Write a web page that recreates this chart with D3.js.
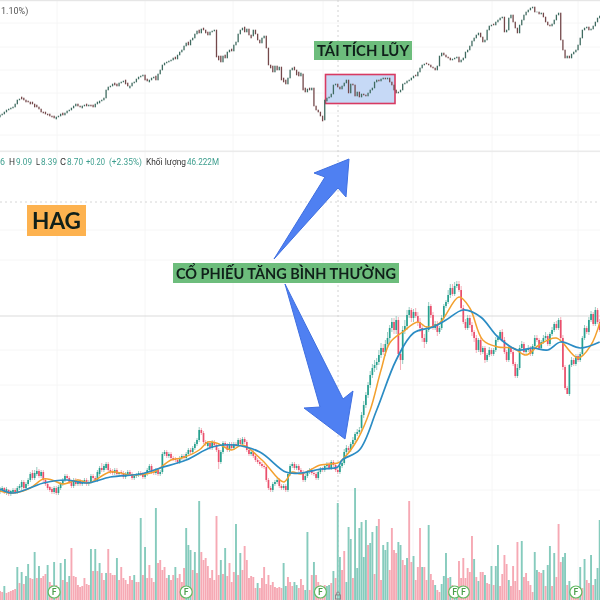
<!DOCTYPE html>
<html lang="vi"><head><meta charset="utf-8">
<style>html,body{margin:0;padding:0;background:#fff}svg{display:block;filter:blur(.35px)}</style>
<script src="https://cdn.jsdelivr.net/npm/d3@7/dist/d3.min.js"></script>
</head><body><div id="c"></div>
<script>
const topClose=[15,16,18,20,21,22,23,26,30,31,31,30,28,28,26,26,23,23,21,18,17,16,15,14,13,12,13,14,16,15,17,19,20,22,24,26,24,23,24,25,24,25,24,23,26,28,29,30,32,40,43,44,46,45,44,47,48,49,46,44,44,47,48,51,53,54,55,50,49,50,52,53,50,56,60,65,67,68,69,70,72,71,75,78,80,84,87,85,90,92,96,99,97,101,100,97,95,98,99,100,73,70,68,74,72,78,80,79,85,88,96,100,102,98,101,95,92,100,96,90,87,92,94,82,65,62,58,64,60,63,50,48,46,52,60,62,60,55,54,57,40,38,41,40,42,24,20,18,14,9,30,32,33,36,45,46,43,41,44,47,50,37,46,45,34,38,33,36,35,34,37,40,42,48,50,49,51,52,51,52,48,45,40,37,38,40,46,47,49,50,52,54,54,58,62,65,66,66,65,63,62,60,64,74,77,75,73,72,70,71,72,73,68,70,72,78,80,84,89,92,95,97,93,88,90,100,104,105,105,108,110,112,113,98,100,112,115,108,102,97,105,110,115,118,120,122,123,118,118,116,117,113,108,105,104,106,110,115,117,90,80,72,74,72,76,78,80,85,92,100,102,103,100,101,104,108,112,114];
const topOpen=[13,15,16,18,20,21,22,23,26,30,33,32,30,29,28,28,26,25,23,21,18,18,16,16,14,14,11,13,14,17,15,17,19,20,22,24,26,24,22,24,26,24,25,25,23,26,27,29,30,32,40,43,44,47,46,44,47,48,50,47,42,44,47,48,51,53,54,55,51,48,50,52,54,50,56,60,65,67,68,69,70,73,71,75,78,80,84,88,85,90,92,96,100,97,102,100,98,95,98,99,100,74,74,68,75,72,78,81,79,85,88,96,100,103,98,101,95,94,100,96,90,87,92,94,82,65,64,58,64,60,63,52,50,46,52,60,63,60,58,54,56,42,38,42,40,42,24,20,18,14,10,29,32,33,36,45,46,43,41,44,47,50,37,46,45,34,38,33,36,35,34,37,40,42,48,50,49,51,52,51,52,48,45,40,37,38,40,46,47,49,50,52,55,54,58,62,65,67,66,65,63,62,60,64,74,77,75,73,72,70,71,72,73,68,70,72,78,80,84,89,92,95,97,93,88,90,100,104,106,105,108,110,112,113,98,100,112,115,108,102,97,105,110,115,118,120,122,123,118,118,116,117,113,108,105,104,106,110,115,117,90,80,72,74,72,76,78,80,85,92,100,102,103,100,101,104,108,112];
const priceClose=[110,112,108,111,106,109,110,108,112,114,118,112,116,120,126,122,127,129,124,128,120,116,112,110,108,112,107,113,116,120,124,122,118,114,120,116,119,116,118,120,116,118,124,122,120,128,132,130,134,136,130,128,127,130,126,128,127,123,126,128,126,122,124,125,127,126,123,126,130,134,128,127,130,126,128,146,148,144,146,142,141,140,138,142,144,142,146,150,148,152,156,160,170,167,158,156,157,152,158,155,150,138,148,157,155,150,156,152,156,155,160,156,161,158,150,146,148,144,140,138,136,134,133,120,112,110,116,118,120,114,112,114,110,126,134,136,132,134,130,128,120,124,128,130,127,126,122,128,131,130,134,136,132,138,135,130,128,134,137,148,152,150,156,160,166,168,170,185,195,205,215,225,232,235,238,245,252,248,256,262,272,278,270,280,246,240,270,274,285,290,282,288,284,278,272,262,258,270,294,285,272,276,268,272,282,294,298,305,312,306,314,316,310,292,278,272,282,275,268,262,250,260,248,252,240,245,250,246,250,260,262,268,260,248,240,252,248,236,224,232,252,256,248,250,252,246,254,262,260,252,258,262,264,256,266,270,276,272,280,262,233,212,206,235,240,236,244,240,246,262,272,268,280,286,276,290,278,270];
const priceOpen=[108,110,112,107,110,106,108,110,108,112,113,118,112,116,120,127,122,126,129,124,128,120,116,113,111,108,112,107,112,116,120,124,122,118,114,120,116,119,116,118,120,116,118,124,122,120,126,132,130,132,136,130,129,127,130,126,128,127,123,126,128,126,122,124,125,127,126,123,126,130,134,128,127,130,126,128,146,148,144,146,142,141,140,138,142,144,142,146,150,148,152,156,160,170,167,158,154,157,152,158,155,150,138,148,157,155,150,156,152,156,155,160,156,161,158,150,146,148,144,140,138,136,134,133,120,112,110,116,118,120,114,112,114,110,126,134,136,132,134,130,128,120,124,128,130,127,126,122,128,131,130,134,136,132,138,135,130,128,134,137,148,152,150,156,160,166,168,172,185,195,205,215,225,232,235,238,245,252,248,256,262,272,278,270,280,246,240,270,274,285,290,282,288,284,278,272,262,258,270,294,285,272,276,268,272,282,294,298,305,312,306,314,316,310,292,278,272,282,275,268,262,250,260,248,252,240,245,250,246,250,260,262,268,260,248,240,252,248,236,224,232,252,256,248,250,252,246,254,262,260,252,258,262,264,256,266,270,276,272,280,262,233,212,206,235,240,236,244,240,246,262,272,268,280,286,276,290,278];
const priceHigh=[113,114,113,113,111,110,112,112,114,116,120,120,118,122,128,130,130,133,131,130,130,122,118,114,113,114,114,115,118,122,126,126,124,120,122,122,121,121,120,122,122,120,126,126,124,130,134,137,136,138,138,132,131,132,132,128,130,129,128,130,130,128,126,127,129,129,128,128,132,136,136,130,132,132,130,148,150,150,148,148,144,143,142,144,146,146,148,152,152,154,158,162,173,172,169,160,159,158,160,160,157,152,150,159,159,157,158,158,158,158,162,162,163,163,160,152,150,150,146,142,140,138,136,135,122,114,118,120,122,122,116,116,116,128,136,138,138,136,136,132,130,126,130,132,132,130,128,130,133,133,136,138,138,140,140,137,132,136,139,151,155,154,158,163,168,171,173,188,199,208,218,229,236,240,242,250,257,256,260,268,275,282,282,284,283,250,274,280,290,293,292,291,292,288,282,275,266,274,298,296,288,279,279,274,285,296,300,310,316,316,318,319,319,314,295,281,285,285,278,270,265,262,262,254,254,247,253,252,252,263,265,270,271,263,250,254,254,250,238,236,255,259,258,252,255,254,256,265,265,262,260,265,268,266,268,273,278,279,282,283,265,235,214,236,243,242,246,246,248,264,275,274,283,289,288,293,292,281];
const priceLow=[106,108,106,105,104,104,106,106,106,110,110,110,110,114,118,120,120,124,122,122,118,114,110,108,106,106,105,105,110,114,118,120,116,112,112,114,114,114,114,116,114,114,116,120,118,118,124,128,128,130,128,126,125,125,124,124,125,121,121,124,124,120,120,122,123,124,121,121,124,128,126,125,125,124,124,126,144,142,142,140,139,138,136,136,140,140,140,144,146,146,150,154,158,165,156,154,152,150,150,153,148,131,136,146,153,148,148,150,150,153,153,154,154,156,148,144,144,142,138,136,134,132,131,118,110,108,108,114,116,112,110,110,108,108,124,132,130,130,128,126,118,118,122,126,125,124,120,120,126,128,128,132,130,130,133,128,126,126,132,135,146,148,148,154,158,164,166,168,182,192,202,212,222,228,230,235,242,245,244,252,258,268,266,266,244,230,236,266,270,282,278,278,282,274,268,258,252,256,268,282,270,270,264,266,270,280,292,296,302,304,304,312,308,290,276,270,270,272,264,258,247,248,245,246,237,238,243,244,244,248,258,260,258,246,238,238,246,234,222,222,230,250,246,246,248,244,244,252,258,250,250,256,260,254,254,264,268,270,270,260,230,210,210,204,233,234,234,238,238,244,260,266,265,278,274,274,276,268];
const volumes=[9,8,14,7,8,9,10,11,33,17,28,16,24,36,22,21,48,22,34,22,24,26,35,18,15,38,15,13,37,20,41,18,24,52,24,23,15,13,14,22,16,15,51,29,51,29,37,27,20,27,51,27,25,25,42,20,33,22,20,16,24,20,25,18,18,82,25,53,22,35,22,18,92,37,40,30,33,22,25,20,25,33,22,26,18,32,72,55,50,30,48,27,99,48,40,42,34,22,30,20,84,25,40,26,52,24,37,18,28,76,25,47,30,54,40,22,24,23,12,17,12,22,33,16,25,15,18,13,12,13,12,37,14,23,18,14,18,15,12,21,15,10,68,10,25,38,25,18,15,13,15,14,15,17,29,22,97,43,30,49,18,73,61,22,112,32,72,78,43,80,55,57,68,26,74,81,20,55,50,58,30,72,50,47,58,55,40,35,42,99,38,44,20,33,72,33,33,20,75,26,20,15,10,8,16,24,47,22,23,15,13,14,39,22,42,22,32,28,64,41,23,19,28,28,25,17,16,34,15,34,55,14,26,45,36,20,14,34,19,58,10,59,23,27,19,15,8,48,30,28,27,30,14,35,54,14,47,23,76,38,43,47,15,19,8,12,10,9,33,12,41,20,17,45,15,21,32,80];
const upVolumeBars=[2,8,10,12,13,16,18,22,25,28,30,32,42,44,46,49,54,62,65,67,72,78,81,86,87,88,90,92,102,104,109,111,119,131,132,136,137,141,142,145,151,152,154,156,157,160,161,162,164,165,166,167,168,169,171,172,174,177,178,179,184,185,188,191,195,198,201,204,205,206,208,210,211,219,221,224,227,229,230,235,241,247,248,251,253,254,256,260,261,263,268,270,273,275,276,277];
const maSlowBars=[0,6,15,20,31,40,51,65,74,86,98,108,120,132,139,148,156,158,166,174,183,191,200,206,214,222,230,239,246,253,259,268,277];
const maSlow=[111,107,113,117,120,117,123,126,132,140,153,155,148,128,127,131,133,140,150,190,240,267,273,280,290,283,263,250,252,250,258,252,258];
const maFastBars=[0,6,14,20,24,29,36,41,51,61,71,79,84,92,96,100,107,112,121,131,135,139,148,156,158,165,171,176,180,186,193,197,203,212,217,223,230,237,243,249,257,267,273,277];
const maFast=[109,107,112,121,120,116,120,117,128,125,128,140,142,150,158,157,150,155,140,118,128,126,135,137,140,160,190,230,257,268,278,273,277,303,292,260,253,252,245,255,262,242,255,277];
const dividendBars=[25,86,148,210,214,266];
const legendLabels=["6","H","9.09","L","8.39","C","8.70","+0.20","(+2.35%)","Khối lượng","46.222M"];
const legendIsValue=[1,0,1,0,1,0,1,1,1,0,1];

const W=600,H=600;
const svg=d3.select("#c").append("svg").attr("width",W).attr("height",H).attr("viewBox",[0,0,W,H]).style("font-family","Lato");
const x=d3.scaleLinear().domain([0,277]).range([0,599.7]);
const yTop=d3.scaleLinear().domain([0,130]).range([130,0]);
const yPrice=d3.scaleLinear().domain([0,320]).range([600,280]);
const yVol=d3.scaleLinear().domain([0,120]).range([600,480]);
const idx=d3.range(topClose.length);

// grid
const grid=svg.append("g").attr("stroke","#f6f6f6").attr("stroke-width",1);
[57,145,233,323,413,492,578].forEach(v=>grid.append("line").attr("x1",v).attr("x2",v).attr("y1",0).attr("y2",600));
[23,47,70,93,113,135,230,260,350,385,420,455,490].forEach(v=>grid.append("line").attr("y1",v).attr("y2",v).attr("x1",0).attr("x2",600));
svg.append("rect").attr("x",0).attr("y",0).attr("width",600).attr("height",1.2).attr("fill","#e6e6e6");
svg.append("rect").attr("x",0).attr("y",150.5).attr("width",600).attr("height",1.6).attr("fill","#ebebeb");
svg.append("line").attr("x1",0).attr("x2",600).attr("y1",316).attr("y2",316).attr("stroke","#dcdcdc").attr("stroke-width",1.2);
svg.append("line").attr("x1",0).attr("x2",600).attr("y1",202).attr("y2",202).attr("stroke","#d6d6d6").attr("stroke-dasharray","2 3");
svg.append("line").attr("x1",338).attr("x2",338).attr("y1",0).attr("y2",600).attr("stroke","#d2d2d2").attr("stroke-dasharray","2 3");

// consolidation box
svg.append("rect").attr("x",325.5).attr("y",74.5).attr("width",69.5).attr("height",29).attr("fill","#c6d9f6").attr("stroke","#d83a62").attr("stroke-width",1.6);

// top candles
svg.append("g").selectAll("rect").data(idx).join("rect")
 .attr("x",i=>x(i)-.65).attr("width",1.3)
 .attr("y",i=>yTop(Math.max(topOpen[i],topClose[i]))-.3)
 .attr("height",i=>Math.abs(topOpen[i]-topClose[i])+.6)
 .attr("fill",i=>topClose[i]>=topOpen[i]?"#3f6b60":"#74484a");

// volumes
const upSet=new Set(upVolumeBars);
svg.append("g").selectAll("rect").data(volumes).join("rect")
 .attr("x",(d,i)=>x(i)-.95).attr("width",1.9).attr("y",d=>yVol(d)).attr("height",d=>yVol(0)-yVol(d))
 .attr("fill",(d,i)=>upSet.has(i)?"#86cbbd":"#f6a9b4");

// price candles
const pg=svg.append("g");
pg.selectAll("line").data(idx).join("line")
 .attr("x1",i=>x(i)).attr("x2",i=>x(i)).attr("y1",i=>yPrice(priceHigh[i])).attr("y2",i=>yPrice(priceLow[i]))
 .attr("stroke",i=>priceClose[i]>=priceOpen[i]?"#7fbfb3":"#f29aa8").attr("stroke-width",.8);
pg.selectAll("rect").data(idx).join("rect")
 .attr("x",i=>x(i)-.85).attr("width",1.7)
 .attr("y",i=>yPrice(Math.max(priceOpen[i],priceClose[i])))
 .attr("height",i=>Math.max(1,Math.abs(priceOpen[i]-priceClose[i])))
 .attr("fill",i=>priceClose[i]>=priceOpen[i]?"#26a08f":"#ea4f6c");

// moving averages
const line=d3.line().x(d=>x(d[0])).y(d=>yPrice(d[1])).curve(d3.curveCatmullRom.alpha(.5));
svg.append("path").attr("d",line(d3.zip(maFastBars,maFast))).attr("fill","none").attr("stroke","#f3a02e").attr("stroke-width",1.5);
svg.append("path").attr("d",line(d3.zip(maSlowBars,maSlow))).attr("fill","none").attr("stroke","#2b8cc4").attr("stroke-width",1.7);

// dividend markers
const fg=svg.append("g").selectAll("g").data(dividendBars).join("g").attr("transform",d=>`translate(${x(d)},592)`);
fg.append("circle").attr("r",6).attr("fill","#fff").attr("stroke","#63bb63").attr("stroke-width",1.2);
fg.append("text").attr("text-anchor","middle").attr("y",3).attr("font-size",8.5).attr("font-weight",700).attr("fill","#4a9e4a").text("F");
// lock
const lk=svg.append("g").attr("transform","translate(338,596)");
lk.append("rect").attr("x",-2.5).attr("y",-1).attr("width",5).attr("height",4).attr("fill","none").attr("stroke","#8a8a8a");
lk.append("path").attr("d","M-1.5,-1V-2.5a1.5,1.5 0 0 1 3,0V-1").attr("fill","none").attr("stroke","#8a8a8a");

// arrows
[[[274,259],[325,177],[314,173],[349,159],[346,197],[338,188]],
 [[285,284],[343,399],[353,391],[345,439],[304,408],[320,407]]].forEach(p=>
 svg.append("polygon").attr("points",p.map(q=>q.join(",")).join(" ")).attr("fill","#4f80f2").attr("stroke","#3f6fe0").attr("stroke-width",1).attr("stroke-linejoin","round"));

// labels
function tag(bx,by,bw,bh,fill,txt,fs,ty,tw){
 svg.append("rect").attr("x",bx).attr("y",by).attr("width",bw).attr("height",bh).attr("fill",fill);
 svg.append("text").attr("x",bx+bw/2).attr("y",ty).attr("text-anchor","middle").attr("font-size",fs).attr("font-weight",700).attr("fill","#10201a")
  .attr("textLength",tw).attr("lengthAdjust","spacingAndGlyphs").text(txt);
}
tag(27,205,59,31,"#fdb24f","HAG",23,229,49);
tag(173,263,226,20,"#6dbd7c","CỔ PHIẾU TĂNG BÌNH THƯỜNG",15.5,279,220);
tag(314,41,98,19,"#6dbd7c","TÁI TÍCH LŨY",15.5,56,92);

// OHLC legend
const tf="Roboto";
const legendX=[0,9,16,36,41,60,67,86,109,146,187];
const legendW=[5,6,16,4,16,6,16,19,33,40,32];
svg.append("text").attr("x",1).attr("y",14).attr("font-family",tf).attr("font-size",9).attr("fill","#555").text("1.10%)");
svg.append("g").selectAll("text").data(legendLabels).join("text")
 .attr("x",(d,i)=>legendX[i]).attr("y",165).attr("font-family",tf).attr("font-size",9)
 .attr("textLength",(d,i)=>legendW[i]).attr("lengthAdjust","spacingAndGlyphs")
 .attr("fill",(d,i)=>legendIsValue[i]?"#3d9e8e":"#333").text(d=>d);
</script></body></html>
